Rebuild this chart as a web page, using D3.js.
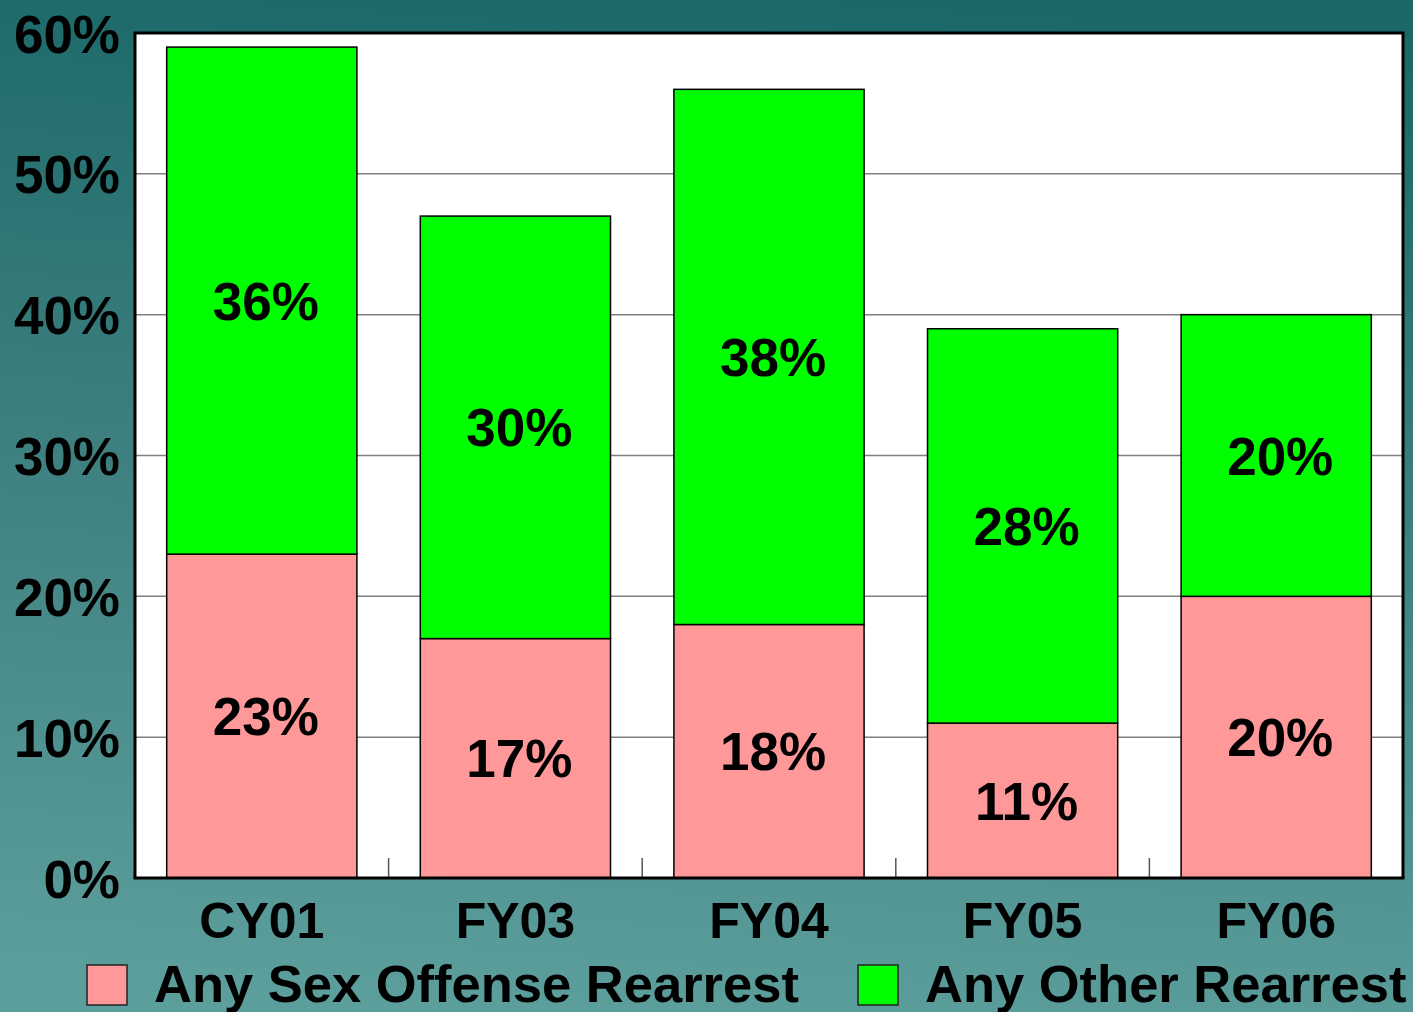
<!DOCTYPE html>
<html>
<head>
<meta charset="utf-8">
<script src="https://cdn.jsdelivr.net/npm/d3@7"></script>
<style>
  html, body { margin: 0; padding: 0; }
  svg text { font-family: "Liberation Sans", Arial, sans-serif; font-weight: bold; }
</style>
</head>
<body>
<div id="chart"></div>
<script>
// Chart data
var categories = ["CY01", "FY03", "FY04", "FY05", "FY06"];
var sexOffense = [23, 17, 18, 11, 20];
var otherRearrest = [36, 30, 38, 28, 20];
var seriesNames = ["Any Sex Offense Rearrest", "Any Other Rearrest"];
var yTicks = [0, 10, 20, 30, 40, 50, 60];

// Layout
var width = 1413;
var height = 1012;
var plot = { left: 135, top: 33, right: 1403, bottom: 878 };
var colors = ["#ff9999", "#00ff00"];

var svg = d3.select("#chart")
    .append("svg")
    .attr("width", width)
    .attr("height", height);

// Background gradient (dark teal at top, lighter at bottom)
var defs = svg.append("defs");
var grad = defs.append("linearGradient")
    .attr("id", "bg")
    .attr("x1", "0.55").attr("y1", "0")
    .attr("x2", "0.45").attr("y2", "1");
grad.append("stop").attr("offset", "0").attr("stop-color", "#1a6868");
grad.append("stop").attr("offset", "0.5").attr("stop-color", "#3f8180");
grad.append("stop").attr("offset", "1").attr("stop-color", "#5c9e9c");
svg.append("rect")
    .attr("width", width)
    .attr("height", height)
    .attr("fill", "url(#bg)");

// Scales
var x = d3.scaleBand()
    .domain(categories)
    .range([plot.left, plot.right])
    .paddingInner(0.25)
    .paddingOuter(0.125);
var xOuter = d3.scaleBand()
    .domain(categories)
    .range([plot.left, plot.right]);
var y = d3.scaleLinear()
    .domain([0, 60])
    .range([plot.bottom, plot.top]);

// Plot area
svg.append("rect")
    .attr("x", plot.left)
    .attr("y", plot.top)
    .attr("width", plot.right - plot.left)
    .attr("height", plot.bottom - plot.top)
    .attr("fill", "#ffffff");

// Gridlines
svg.append("g")
    .selectAll("line")
    .data(yTicks.slice(1, -1))
    .enter()
    .append("line")
    .attr("x1", plot.left)
    .attr("x2", plot.right)
    .attr("y1", function(d) { return y(d); })
    .attr("y2", function(d) { return y(d); })
    .attr("stroke", "#808080")
    .attr("stroke-width", 1.5);

// Stacked data
var rows = categories.map(function(c, i) {
    return { cat: c, sex: sexOffense[i], other: otherRearrest[i] };
});
var stacked = d3.stack().keys(["sex", "other"])(rows);

var layers = svg.append("g")
    .selectAll("g")
    .data(stacked)
    .enter()
    .append("g")
    .attr("fill", function(d, i) { return colors[i]; });

layers.selectAll("rect")
    .data(function(d) { return d; })
    .enter()
    .append("rect")
    .attr("x", function(d) { return x(d.data.cat); })
    .attr("y", function(d) { return y(d[1]); })
    .attr("width", x.bandwidth())
    .attr("height", function(d) { return y(d[0]) - y(d[1]); })
    .attr("stroke", "#000")
    .attr("stroke-width", 1.5);

// Value labels
layers.selectAll("text")
    .data(function(d) { return d; })
    .enter()
    .append("text")
    .attr("x", function(d) { return x(d.data.cat) + x.bandwidth() / 2 + 4; })
    .attr("y", function(d) { return y((d[0] + d[1]) / 2); })
    .attr("dy", "0.36em")
    .attr("text-anchor", "middle")
    .attr("font-size", 53)
    .attr("fill", "#000")
    .text(function(d) { return (d[1] - d[0]) + "%"; });

// Category boundary ticks
svg.append("g")
    .selectAll("line")
    .data(categories.slice(1))
    .enter()
    .append("line")
    .attr("x1", function(d) { return xOuter(d); })
    .attr("x2", function(d) { return xOuter(d); })
    .attr("y1", plot.bottom - 20)
    .attr("y2", plot.bottom)
    .attr("stroke", "#555")
    .attr("stroke-width", 1.5);

// Frame
svg.append("path")
    .attr("d", "M" + plot.left + "," + plot.bottom +
               "V" + plot.top + "H" + plot.right + "V" + plot.bottom)
    .attr("fill", "none")
    .attr("stroke", "#000")
    .attr("stroke-width", 3);
svg.append("line")
    .attr("x1", plot.left - 1.5)
    .attr("x2", plot.right + 1.5)
    .attr("y1", plot.bottom)
    .attr("y2", plot.bottom)
    .attr("stroke", "#000")
    .attr("stroke-width", 3);

// Y axis labels
var yAxis = d3.axisLeft(y)
    .tickValues(yTicks)
    .tickSize(0)
    .tickPadding(15)
    .tickFormat(function(d) { return d + "%"; });
var yG = svg.append("g")
    .attr("transform", "translate(" + plot.left + ",0)")
    .call(yAxis);
yG.select(".domain").remove();
yG.selectAll("text")
    .attr("font-size", 53)
    .attr("font-family", null)
    .attr("fill", "#000")
    .attr("dy", "0.36em");

// X axis labels
var xAxis = d3.axisBottom(xOuter).tickSize(0).tickPadding(24);
var xG = svg.append("g")
    .attr("transform", "translate(0," + plot.bottom + ")")
    .call(xAxis);
xG.select(".domain").remove();
xG.selectAll("text")
    .attr("font-size", 50)
    .attr("font-family", null)
    .attr("fill", "#000");

// Legend
var legendX = [87, 858];
var legend = svg.append("g")
    .selectAll("g")
    .data(seriesNames)
    .enter()
    .append("g")
    .attr("transform", function(d, i) { return "translate(" + legendX[i] + ",965)"; });
legend.append("rect")
    .attr("width", 40)
    .attr("height", 40)
    .attr("fill", function(d, i) { return colors[i]; })
    .attr("stroke", "#222")
    .attr("stroke-width", 1.5);
legend.append("text")
    .attr("x", 67)
    .attr("y", 37)
    .attr("font-size", 52.5)
    .attr("fill", "#000")
    .text(function(d) { return d; });
</script>
</body>
</html>
